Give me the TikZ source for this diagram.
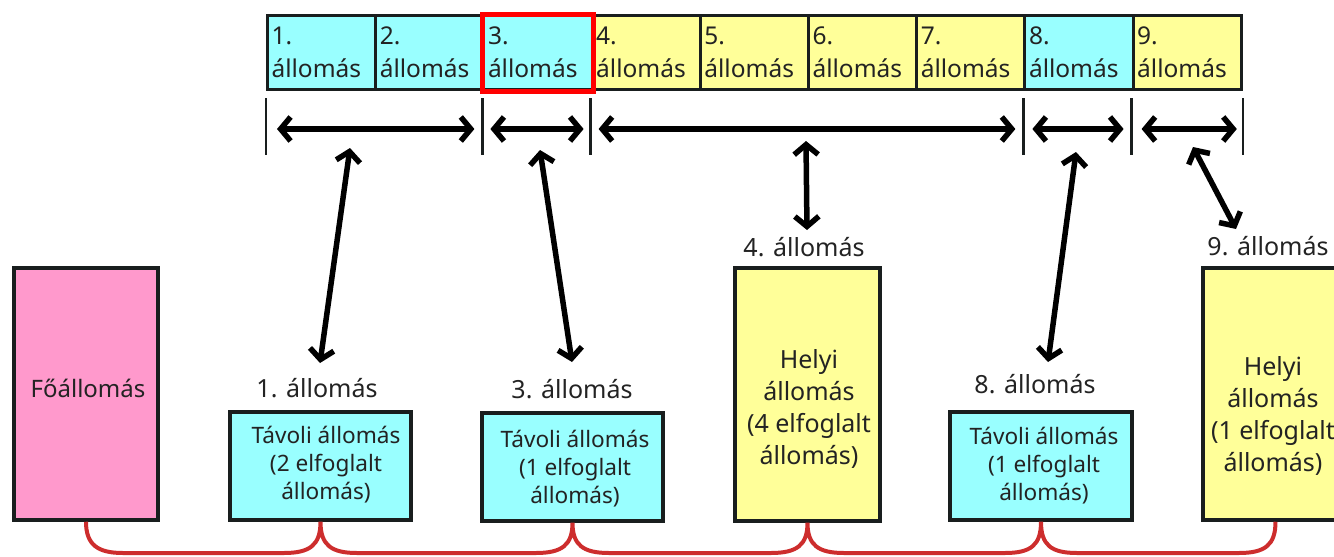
\documentclass[tikz,border=0pt]{standalone}
\usepackage{fontspec}
\setmainfont{Noto Sans}
\usetikzlibrary{arrows.meta,calc}
\definecolor{cyanb}{RGB}{153,255,255}
\definecolor{yelb}{RGB}{255,255,153}
\definecolor{pinkb}{RGB}{255,153,204}
\definecolor{linec}{RGB}{25,30,30}
\definecolor{txt}{RGB}{35,35,35}
\definecolor{busred}{RGB}{205,45,45}
\definecolor{redbox}{RGB}{255,0,0}
\begin{document}
\begin{tikzpicture}[x=1pt,y=-1pt,
  >={Straight Barb[length=10pt,width=24pt]},
  every node/.style={text=txt},
  cell/.style={draw=linec, line width=3pt, minimum width=108.2pt, minimum height=74pt,
    anchor=north west, inner sep=0pt, text width=100pt, align=left,
    font=\fontsize{24.5}{33}\selectfont},
  tickline/.style={draw=linec, line width=2.5pt},
  dbl/.style={<->, line width=5.5pt, draw=black},
  box/.style={draw=linec, line width=3.5pt, inner sep=0pt},
  lbl/.style={anchor=base, font=\fontsize{25}{30}\selectfont},
  far/.style={align=center, font=\fontsize{22.6}{28}\selectfont},
  loc/.style={align=center, font=\fontsize{25}{31.7}\selectfont},
  bus/.style={draw=busred, line width=4pt}
]
\useasboundingbox (0,0) rectangle (1334,557);
\clip (0,0) rectangle (1334,557);

% top row of cells
\foreach \i/\f in {1/cyanb,2/cyanb,3/cyanb,4/yelb,5/yelb,6/yelb,7/yelb,8/cyanb,9/yelb}
  \node[cell, fill=\f] (c\i) at ({266+(\i-1)*108.2},14) {\i.\\állomás};
\draw[redbox, line width=5pt] (c3.north west) rectangle (c3.south east);

% ticks
\foreach \a/\n in {c1.south west/0, c3.south west/1, c4.south west/2, c8.south west/3, c9.south west/4, c9.south east/5}{
  \coordinate (t\n) at ($(\a)+(0,7)$);
  \draw[tickline] (t\n) -- ++(0,57);
  \coordinate (p\n) at ($(\a)+(0,38)$);
}
\draw[dbl, shorten <=11pt, shorten >=8pt] (p0) -- (p1);
\draw[dbl, shorten <=8pt, shorten >=7pt] (p1) -- (p2);
\draw[dbl, shorten <=8pt, shorten >=8pt] (p2) -- (p3);
\draw[dbl, shorten <=9pt, shorten >=8pt] (p3) -- (p4);
\draw[dbl, shorten <=10pt, shorten >=6pt] (p4) -- (p5);

% labels
\node[lbl] (l1) at (317,397) {1. állomás};
\node[lbl] (l3) at (572,398) {3. állomás};
\node[lbl] (l4) at (804,256) {4. állomás};
\node[lbl] (l8) at (1035,393) {8. állomás};
\node[lbl] (l9) at (1268,255) {9. állomás};

% vertical arrows
\coordinate (v1a) at (350,148); \coordinate (v1b) at (320,363);
\coordinate (v2a) at (540,150); \coordinate (v2b) at (572,362);
\coordinate (v3a) at (806,141); \coordinate (v3b) at (807,230);
\coordinate (v4a) at (1076,152); \coordinate (v4b) at (1048,362);
\coordinate (v5a) at (1193,147); \coordinate (v5b) at (1236,229);
\foreach \k in {1,...,5} \draw[dbl] (v\k a) -- (v\k b);

% boxes
\node[box, fill=pinkb, minimum width=144pt, minimum height=252pt] (fo) at (86,394) {};
\node[box, fill=cyanb, minimum width=181pt, minimum height=108pt] (t1) at (320.5,466) {};
\node[box, fill=cyanb, minimum width=181pt, minimum height=108pt] (t3) at (572.5,467) {};
\node[box, fill=yelb, minimum width=145pt, minimum height=253pt] (h4) at (807.5,394.5) {};
\node[box, fill=cyanb, minimum width=182pt, minimum height=108pt] (t8) at (1041,466) {};
\node[box, fill=yelb, minimum width=145pt, minimum height=252pt] (h9) at (1275.5,394) {};

\node[font=\fontsize{24}{29}\selectfont] (fot) at (88,388) {Főállomás};
\node[far] (t1t) at (326,465) {Távoli állomás\\(2 elfoglalt\\állomás)};
\node[far] (t3t) at (575,469) {Távoli állomás\\(1 elfoglalt\\állomás)};
\node[far] (t8t) at (1044,466) {Távoli állomás\\(1 elfoglalt\\állomás)};
\node[loc] (h4t) at (809,409) {Helyi\\állomás\\(4 elfoglalt\\állomás)};
\node[loc] (h9t) at (1273,416) {Helyi\\állomás\\(1 elfoglalt\\állomás)};

% bus
\draw[bus] (fo.south) .. controls (86,545) and (98,553) .. (123,553) -- (284,553)
  .. controls (310,553) and (320.5,545) .. (t1.south)
  .. controls (320.5,545) and (331,553) .. (357,553) -- (536,553)
  .. controls (562,553) and (572.5,545) .. (t3.south)
  .. controls (572.5,545) and (583,553) .. (609,553) -- (771,553)
  .. controls (797,553) and (807.5,545) .. (h4.south)
  .. controls (807.5,545) and (818,553) .. (844,553) -- (1005,553)
  .. controls (1031,553) and (1041,545) .. (t8.south)
  .. controls (1041,545) and (1051,553) .. (1077,553) -- (1239,553)
  .. controls (1265,553) and (1275.5,545) .. (h9.south);
\end{tikzpicture}
\end{document}
